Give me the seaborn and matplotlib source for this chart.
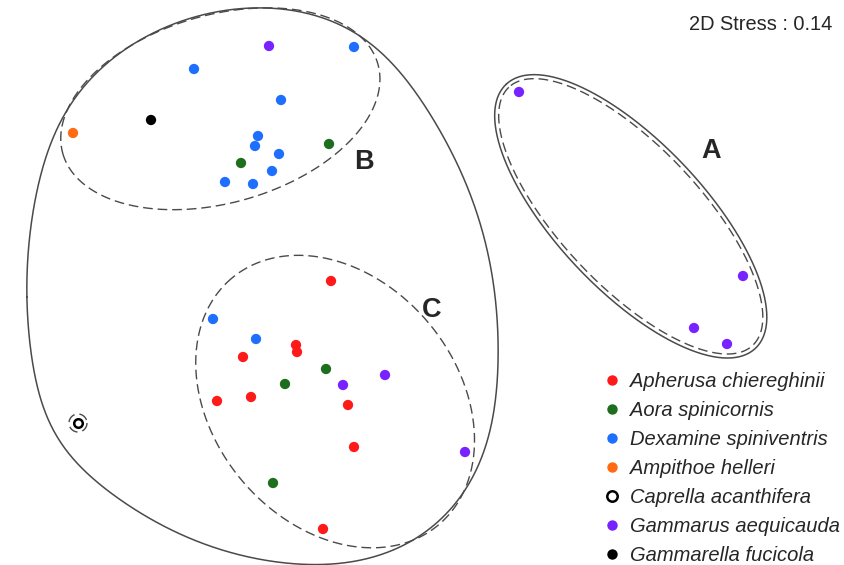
import numpy as np
import pandas as pd
import matplotlib
matplotlib.use("Agg")
import matplotlib.pyplot as plt
from matplotlib.lines import Line2D
import seaborn as sns

# nMDS ordination, coordinates (plot units, y grows downward)
species_names = [
    "Apherusa chiereghinii",
    "Aora spinicornis",
    "Dexamine spiniventris",
    "Ampithoe helleri",
    "Caprella acanthifera",
    "Gammarus aequicauda",
    "Gammarella fucicola",
]
species_colors = ["#ff1a1a", "#1d6e1d", "#1f6fff", "#ff6a13", "#ffffff", "#7722ff", "#000000"]

# group B
b_x = [269, 354, 194, 281, 151, 73, 258, 255, 329, 279, 241, 272, 225, 253]
b_y = [46, 47, 69, 100, 120, 133, 136, 146, 144, 154, 163, 171, 182, 184]
b_sp = ["Gammarus aequicauda", "Dexamine spiniventris", "Dexamine spiniventris",
        "Dexamine spiniventris", "Gammarella fucicola", "Ampithoe helleri",
        "Dexamine spiniventris", "Dexamine spiniventris", "Aora spinicornis",
        "Dexamine spiniventris", "Aora spinicornis", "Dexamine spiniventris",
        "Dexamine spiniventris", "Dexamine spiniventris"]

# group C
c_x = [331, 213, 256, 296, 297, 243, 326, 385, 285, 343, 217, 251, 348, 354, 465, 273, 323]
c_y = [281, 319, 339, 345, 352, 357, 369, 375, 384, 385, 401, 397, 405, 447, 452, 483, 529]
c_sp = ["Apherusa chiereghinii", "Dexamine spiniventris", "Dexamine spiniventris",
        "Apherusa chiereghinii", "Apherusa chiereghinii", "Apherusa chiereghinii",
        "Aora spinicornis", "Gammarus aequicauda", "Aora spinicornis",
        "Gammarus aequicauda", "Apherusa chiereghinii", "Apherusa chiereghinii",
        "Apherusa chiereghinii", "Apherusa chiereghinii", "Gammarus aequicauda",
        "Aora spinicornis", "Apherusa chiereghinii"]

# group A
a_x = [519, 743, 694, 727]
a_y = [92, 276, 328, 344]
a_sp = ["Gammarus aequicauda"] * 4

# lone Caprella sample
cap_x = [78]
cap_y = [423]
cap_sp = ["Caprella acanthifera"]

group_labels = ["A", "B", "C"]
stress = 0.14


def mvee(points, tol=1e-4, max_iter=3000):
    """Minimum volume enclosing ellipse (Khachiyan)."""
    n, d = points.shape
    q = np.vstack([points.T, np.ones(n)])
    u = np.ones(n) / n
    for _ in range(max_iter):
        x = (q * u) @ q.T
        m = np.sum((np.linalg.inv(x) @ q) * q, axis=0)
        j = np.argmax(m)
        step = (m[j] - d - 1) / ((d + 1) * (m[j] - 1))
        new_u = (1 - step) * u
        new_u[j] += step
        err = np.linalg.norm(new_u - u)
        u = new_u
        if err < tol:
            break
    c = points.T @ u
    a = np.linalg.inv((points.T * u) @ points - np.outer(c, c)) / d
    return a, c


def min_circle(z, n_iter=3000):
    # Badoiu-Clarkson approximation
    c = z.mean(axis=0)
    for i in range(1, n_iter):
        far = z[np.argmax(np.sum((z - c) ** 2, axis=1))]
        c = c + (far - c) / (i + 1)
    return c, np.sqrt(np.max(np.sum((z - c) ** 2, axis=1)))


def rounded_fit(points, roundness):
    """Enclosing ellipse with the MVEE orientation, made rounder, tightest fit."""
    a, _ = mvee(points)
    vals, vecs = np.linalg.eigh(a)
    semi = 1 / np.sqrt(vals)
    g = np.sqrt(semi[0] * semi[1])
    ratio = (semi[0] / semi[1]) ** ((1 - roundness) / 2)
    semi = np.array([g * ratio, g / ratio])
    z = (points @ vecs) / semi
    cz, r = min_circle(z)
    c = vecs @ (cz * semi)
    semi = semi * r
    a = vecs @ np.diag(1 / semi ** 2) @ vecs.T
    return a, c


def ellipse_curve(a, c, grow=0.0, n=400):
    vals, vecs = np.linalg.eigh(a)
    ax_len = 1 / np.sqrt(vals)
    t = np.linspace(0, 2 * np.pi, n)
    local = np.stack([ax_len[0] * np.cos(t), ax_len[1] * np.sin(t)])
    normal = np.stack([np.cos(t) / ax_len[0], np.sin(t) / ax_len[1]])
    normal /= np.linalg.norm(normal, axis=0)
    pts = local + grow * normal
    return (c[:, None] + vecs @ pts).T


def convex_hull(points):
    pts = points[np.lexsort((points[:, 1], points[:, 0]))]

    def half(seq):
        out = []
        for p in seq:
            while len(out) >= 2:
                o, q = out[-2], out[-1]
                if (q[0] - o[0]) * (p[1] - o[1]) - (q[1] - o[1]) * (p[0] - o[0]) <= 0:
                    out.pop()
                else:
                    break
            out.append(p)
        return out

    lower = half(pts)
    upper = half(pts[::-1])
    hull = np.array(lower[:-1] + upper[:-1])
    return np.vstack([hull, hull[:1]])


def radial(curve, center, theta):
    dense = [np.linspace(curve[i], curve[i + 1], 20, endpoint=False) for i in range(len(curve) - 1)]
    dense = np.vstack(dense) - center
    ang = np.arctan2(dense[:, 1], dense[:, 0])
    rad = np.hypot(dense[:, 0], dense[:, 1])
    order = np.argsort(ang)
    return np.interp(theta, ang[order], rad[order], period=2 * np.pi)


def blended_outline(points, roundness, weight, smooth=6, n=720):
    """Between the convex hull and a rounded enclosing ellipse, smoothed."""
    a, c = rounded_fit(points, roundness)
    ell = ellipse_curve(a, c)
    hull = convex_hull(points)
    theta = np.linspace(-np.pi, np.pi, n, endpoint=False)
    r = weight * radial(ell, c, theta) + (1 - weight) * radial(hull, c, theta)
    k = np.exp(-0.5 * (np.arange(-3 * smooth, 3 * smooth + 1) / smooth) ** 2)
    k /= k.sum()
    r = np.convolve(np.concatenate([r[-3 * smooth:], r, r[:3 * smooth]]), k, mode="valid")
    out = np.column_stack([c[0] + r * np.cos(theta), c[1] + r * np.sin(theta)])
    return np.vstack([out, out[:1]])


def padded(xs, ys, pad, k=16):
    t = np.linspace(0, 2 * np.pi, k, endpoint=False)
    out = [np.column_stack([x + pad * np.cos(t), y + pad * np.sin(t)]) for x, y in zip(xs, ys)]
    return np.vstack(out)


df = pd.DataFrame({
    "x": a_x + b_x + c_x + cap_x,
    "y": a_y + b_y + c_y + cap_y,
    "species": a_sp + b_sp + c_sp + cap_sp,
})
palette = dict(zip(species_names, species_colors))

sns.set_style("white")
plt.rcParams["font.family"] = ["Liberation Sans", "DejaVu Sans"]

fig = plt.figure(figsize=(8.44, 5.65), dpi=100)
ax = fig.add_axes([0, 0, 1, 1])

# similarity contours
fit_a = rounded_fit(padded(a_x, a_y, 10), 0.3)
ell_a = ellipse_curve(*fit_a)
ell_a_out = ellipse_curve(*fit_a, grow=4)
ell_b = ellipse_curve(*rounded_fit(padded(b_x, b_y, 12), 0.3))
ell_c = ellipse_curve(*rounded_fit(padded(c_x, c_y, 9), 0.35))
ell_cap = padded(cap_x, cap_y, 9, k=200)
ell_cap = np.vstack([ell_cap, ell_cap[:1]])
outer_pts = np.vstack([ell_b[::4], ell_c[::4], padded(cap_x, cap_y, 22)])
outer = blended_outline(outer_pts, 0.5, 0.6, smooth=18)

dash = dict(color="#4a4a4a", lw=1.0, linestyle=(0, (7, 3.5)))
solid = dict(color="#4a4a4a", lw=1.1)
for curve in (ell_a, ell_b, ell_c, ell_cap):
    ax.plot(curve[:, 0], curve[:, 1], **dash)
for curve in (ell_a_out, outer):
    ax.plot(curve[:, 0], curve[:, 1], **solid)

filled = df[df["species"] != "Caprella acanthifera"]
sns.scatterplot(data=filled, x="x", y="y", hue="species", palette=palette,
                s=55, edgecolor="none", legend=False, ax=ax, zorder=3)
sns.scatterplot(data=df[df["species"] == "Caprella acanthifera"], x="x", y="y",
                s=38, color="white", edgecolor="black", linewidth=1.8,
                legend=False, ax=ax, zorder=3)

# group letters
label_pos = {"A": (711, 151), "B": (364, 162), "C": (432, 310)}
for g in group_labels:
    ax.text(*label_pos[g], g, fontsize=19.5, fontweight="bold", ha="center", va="center")

ax.text(832, 24, f"2D Stress : {stress}", fontsize=14.4, ha="right", va="center")

handles = []
for name, col in zip(species_names, species_colors):
    edge = "black" if col == "#ffffff" else col
    handles.append(Line2D([], [], marker="o", linestyle="", markersize=7.5,
                          markerfacecolor=col, markeredgecolor=edge,
                          markeredgewidth=1.8 if col == "#ffffff" else 0))
leg = ax.legend(handles, species_names, loc="upper left",
                bbox_to_anchor=(600 / 844, 1 - 372 / 565), frameon=False,
                prop={"size": 14.5, "style": "italic"}, handletextpad=0.3,
                handlelength=1.2, labelspacing=0.5, borderpad=0, borderaxespad=0)

ax.set_xlim(0, 844)
ax.set_ylim(565, 0)
ax.set_axis_off()

fig.savefig("out.png", dpi=100)
